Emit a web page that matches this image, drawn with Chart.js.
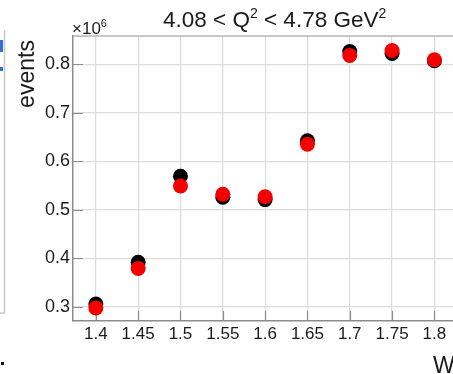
<!DOCTYPE html>
<html>
<head>
<meta charset="utf-8">
<script src="https://cdn.jsdelivr.net/npm/chart.js@4.4.1/dist/chart.umd.min.js"></script>
<style>
  html, body { margin: 0; padding: 0; background: #fff; overflow: hidden; }
  #wrap { width: 453px; height: 374px; position: relative; }
</style>
</head>
<body>
<div id="wrap"><canvas id="c" width="453" height="374"></canvas></div>
<script>
// W bins and event counts (in units of 10^6)
const wBins = [1.4, 1.45, 1.5, 1.55, 1.6, 1.65, 1.7, 1.75, 1.8];
const eventsBlack = [0.306, 0.392, 0.569, 0.526, 0.521, 0.642, 0.826, 0.822, 0.807];
const eventsRed = [0.298, 0.379, 0.549, 0.532, 0.527, 0.635, 0.818, 0.828, 0.809];

const xTicks = [1.4, 1.45, 1.5, 1.55, 1.6, 1.65, 1.7, 1.75, 1.8];
const yTicks = [0.3, 0.4, 0.5, 0.6, 0.7, 0.8];

const FONT = "'Liberation Sans', Arial, Helvetica, sans-serif";

// inward tick marks + top frame line
const frame = {
    id: 'frame',
    beforeDatasetsDraw(chart) {
        const { ctx, chartArea: a, scales } = chart;
        ctx.save();
        ctx.strokeStyle = '#8c8c8c';
        ctx.lineWidth = 1.2;
        ctx.beginPath();
        yTicks.forEach(v => {
            const y = Math.round(scales.y.getPixelForValue(v)) + 0.5;
            ctx.moveTo(a.left, y); ctx.lineTo(a.left + 10, y);
        });
        xTicks.forEach(v => {
            const x = Math.round(scales.x.getPixelForValue(v)) + 0.5;
            ctx.moveTo(x, a.bottom); ctx.lineTo(x, a.bottom - 10);
        });
        ctx.stroke();
        ctx.strokeStyle = '#b4b4b4';
        ctx.lineWidth = 1.5;
        ctx.beginPath();
        ctx.moveTo(a.left, a.top); ctx.lineTo(a.right, a.top);
        ctx.stroke();
        ctx.restore();
    },
    afterDraw(chart) {
        const { ctx } = chart;
        ctx.save();
        ctx.fillStyle = '#1a1a1a';
        ctx.textBaseline = 'alphabetic';
        ctx.textAlign = 'left';

        // title with superscripts
        const big = '22.5px ' + FONT, sup = '14px ' + FONT;
        const parts = [['4.08 < Q', big, 0], ['2', sup, -9], [' < 4.78 GeV', big, 0], ['2', sup, -9]];
        let x = 163;
        parts.forEach(([t, f, dy]) => {
            ctx.font = f;
            ctx.fillText(t, x, 27 + dy);
            x += ctx.measureText(t).width;
        });

        // x10^6 multiplier
        ctx.font = '17px ' + FONT;
        ctx.fillText('\u00d710', 72, 34);
        const w = ctx.measureText('\u00d710').width;
        ctx.font = '11px ' + FONT;
        ctx.fillText('6', 72 + w, 27);

        // axis labels
        ctx.font = '23px ' + FONT;
        ctx.fillText('W', 433, 373);
        ctx.save();
        ctx.translate(34, 74);
        ctx.rotate(-Math.PI / 2);
        ctx.textAlign = 'center';
        ctx.fillText('events', 0, 0);
        ctx.restore();

        // edge of neighbouring panel
        ctx.strokeStyle = '#c8c8c8';
        ctx.lineWidth = 1.5;
        ctx.beginPath();
        ctx.moveTo(4.5, 30); ctx.lineTo(4.5, 313); ctx.lineTo(0, 313);
        ctx.stroke();
        ctx.fillStyle = '#2f6fd6';
        ctx.fillRect(0, 40, 3, 12);
        ctx.fillRect(0, 67, 3, 4);
        ctx.fillStyle = '#111';
        ctx.fillRect(1, 362, 3, 3);
        ctx.restore();
    }
};

new Chart(document.getElementById('c'), {
    type: 'scatter',
    data: {
        datasets: [
            {
                label: 'black',
                data: wBins.map((w, i) => ({ x: w, y: eventsBlack[i] })),
                backgroundColor: '#000',
                borderColor: '#000',
                pointRadius: 7.5,
                pointBorderWidth: 0,
                order: 1
            },
            {
                label: 'red',
                data: wBins.map((w, i) => ({ x: w, y: eventsRed[i] })),
                backgroundColor: '#f40000',
                borderColor: '#f40000',
                pointRadius: 7.5,
                pointBorderWidth: 0,
                order: 0
            }
        ]
    },
    options: {
        responsive: false,
        animation: false,
        layout: { autoPadding: false, padding: { left: 0, top: 36, right: 0, bottom: 0 } },
        plugins: { legend: { display: false }, tooltip: { enabled: false }, title: { display: false } },
        scales: {
            x: {
                type: 'linear',
                min: 1.373, max: 1.822,
                afterBuildTicks: s => { s.ticks = xTicks.map(v => ({ value: v })); },
                afterFit: s => { s.height = 53; s.paddingLeft = 0; s.paddingRight = 0; },
                grid: { color: '#dcdcdc', lineWidth: 1.2, drawTicks: false },
                border: { display: true, color: '#8c8c8c', width: 1.5 },
                ticks: {
                    padding: 3, color: '#1a1a1a', maxRotation: 0, autoSkip: false,
                    font: { family: FONT, size: 17 },
                    callback: v => String(parseFloat(v.toFixed(2)))
                }
            },
            y: {
                type: 'linear',
                min: 0.271, max: 0.858,
                afterBuildTicks: s => { s.ticks = yTicks.map(v => ({ value: v })); },
                afterFit: s => { s.width = 73; s.paddingTop = 0; s.paddingBottom = 0; },
                grid: { color: '#dcdcdc', lineWidth: 1.2, drawTicks: false },
                border: { display: true, color: '#8c8c8c', width: 1.5 },
                ticks: {
                    padding: 3, color: '#1a1a1a', autoSkip: false,
                    font: { family: FONT, size: 18 },
                    callback: v => v.toFixed(1)
                }
            }
        }
    },
    plugins: [frame]
});
</script>
</body>
</html>
